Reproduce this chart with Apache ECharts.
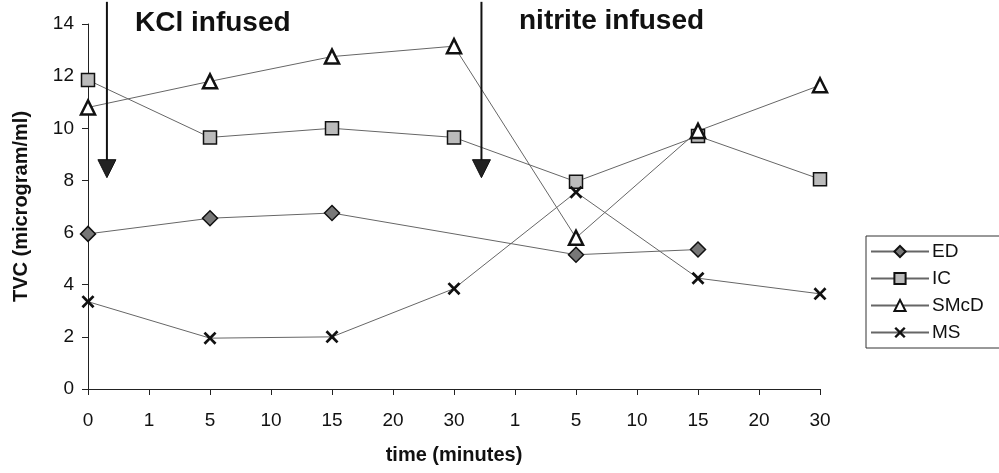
<html>
    <head>
        <meta charset="utf-8">
        <script src='https://cdn.jsdelivr.net/npm/echarts@6/dist/echarts.min.js'></script>
    </head>
    <body>
        <style>
            html, body, #main {
                width: 100%;
                height: 100%;
                margin: 0;
                background: #fff;
            }
        </style>
        <div id='main'></div>
        <script>
            var chart = echarts.init(document.getElementById('main'));

            // time points: KCl phase then nitrite phase
            var categories = ['0', '1', '5', '10', '15', '20', '30', '1', '5', '10', '15', '20', '30'];

            var ED   = [5.95, null, 6.55, null, 6.75, null, null, null, 5.15, null, 5.35, null, null];
            var IC   = [11.85, null, 9.65, null, 10.0, null, 9.65, null, 7.95, null, 9.7, null, 8.05];
            var SMcD = [10.8, null, 11.8, null, 12.75, null, 13.15, null, 5.8, null, 9.9, null, 11.65];
            var MS   = [3.35, null, 1.95, null, 2.0, null, 3.85, null, 7.55, null, 4.25, null, 3.65];

            // infusion arrows, x in category units
            var arrowX = [0.31, 6.45];
            var arrowTop = 14.85;
            var arrowTip = 8.45;

            var font = 'Liberation Sans, Arial, sans-serif';
            var crossPath = 'path://M0,1.5L1.5,0L5,3.5L8.5,0L10,1.5L6.5,5L10,8.5L8.5,10L5,6.5L1.5,10L0,8.5L3.5,5Z';

            function lineSeries(name, data, symbol, fill, size, bw) {
                return {
                    name: name,
                    type: 'line',
                    data: data,
                    connectNulls: true,
                    symbol: symbol,
                    symbolSize: size,
                    showAllSymbol: true,
                    lineStyle: { color: '#666', width: 1 },
                    itemStyle: { color: fill, borderColor: '#111', borderWidth: bw },
                    z: 3
                };
            }

            function arrow(x) {
                return {
                    type: 'line',
                    xAxisIndex: 1,
                    clip: false,
                    silent: true,
                    data: [
                        { value: [x, arrowTop], symbol: 'none' },
                        { value: [x, arrowTip], symbol: 'triangle', symbolSize: [18, 18], symbolRotate: 180 }
                    ],
                    lineStyle: { color: '#111', width: 2 },
                    itemStyle: { color: '#222', borderColor: '#111', borderWidth: 1 },
                    z: 4
                };
            }

            var option = {
                animation: false,
                grid: { left: 88, right: 179, top: 24, bottom: 84, containLabel: false, outerBoundsMode: 'none' },
                legend: {
                    data: ['ED', 'IC', 'SMcD', 'MS'],
                    orient: 'vertical',
                    left: 866,
                    top: 236,
                    itemWidth: 58,
                    itemHeight: 14,
                    itemGap: 8,
                    padding: [6, 40, 6, 4],
                    borderColor: '#333',
                    borderWidth: 1,
                    textStyle: { fontFamily: font, fontSize: 19, color: '#111', padding: [0, 0, 0, -2] }
                },
                xAxis: [{
                    type: 'category',
                    data: categories,
                    boundaryGap: false,
                    name: 'time (minutes)',
                    nameLocation: 'middle',
                    nameGap: 56,
                    nameTextStyle: { fontFamily: font, fontSize: 20, fontWeight: 'bold', color: '#111' },
                    axisLine: { lineStyle: { color: '#222', width: 1 } },
                    axisTick: { alignWithLabel: true, interval: 0, length: 6, lineStyle: { color: '#222' } },
                    axisLabel: { interval: 0, fontFamily: font, fontSize: 19, color: '#111', margin: 22 },
                    splitLine: { show: false }
                }, {
                    type: 'value',
                    min: 0,
                    max: 12,
                    show: false
                }],
                yAxis: {
                    type: 'value',
                    min: 0,
                    max: 14,
                    interval: 2,
                    name: 'TVC (microgram/ml)',
                    nameLocation: 'middle',
                    nameGap: 57,
                    nameTextStyle: { fontFamily: font, fontSize: 20, fontWeight: 'bold', color: '#111' },
                    axisLine: { show: true, lineStyle: { color: '#222', width: 1 } },
                    axisTick: { show: true, length: 6, lineStyle: { color: '#222' } },
                    axisLabel: { fontFamily: font, fontSize: 19, color: '#111', margin: 14 },
                    splitLine: { show: false }
                },
                graphic: [
                    { type: 'text', left: 135, top: 9, style: { text: 'KCl infused', font: 'bold 28px ' + font, fill: '#111' } },
                    { type: 'text', left: 519, top: 7, style: { text: 'nitrite infused', font: 'bold 28px ' + font, fill: '#111' } }
                ],
                series: [
                    lineSeries('ED', ED, 'diamond', '#777', 15, 1.5),
                    lineSeries('IC', IC, 'rect', '#bbb', 13, 1.5),
                    lineSeries('SMcD', SMcD, 'triangle', '#fff', 14, 2.5),
                    lineSeries('MS', MS, crossPath, '#111', 13, 0),
                    arrow(arrowX[0]),
                    arrow(arrowX[1])
                ]
            };

            chart.setOption(option);

            window.onresize = function () {
                chart.resize();
            }
        </script>
    </body>
</html>
